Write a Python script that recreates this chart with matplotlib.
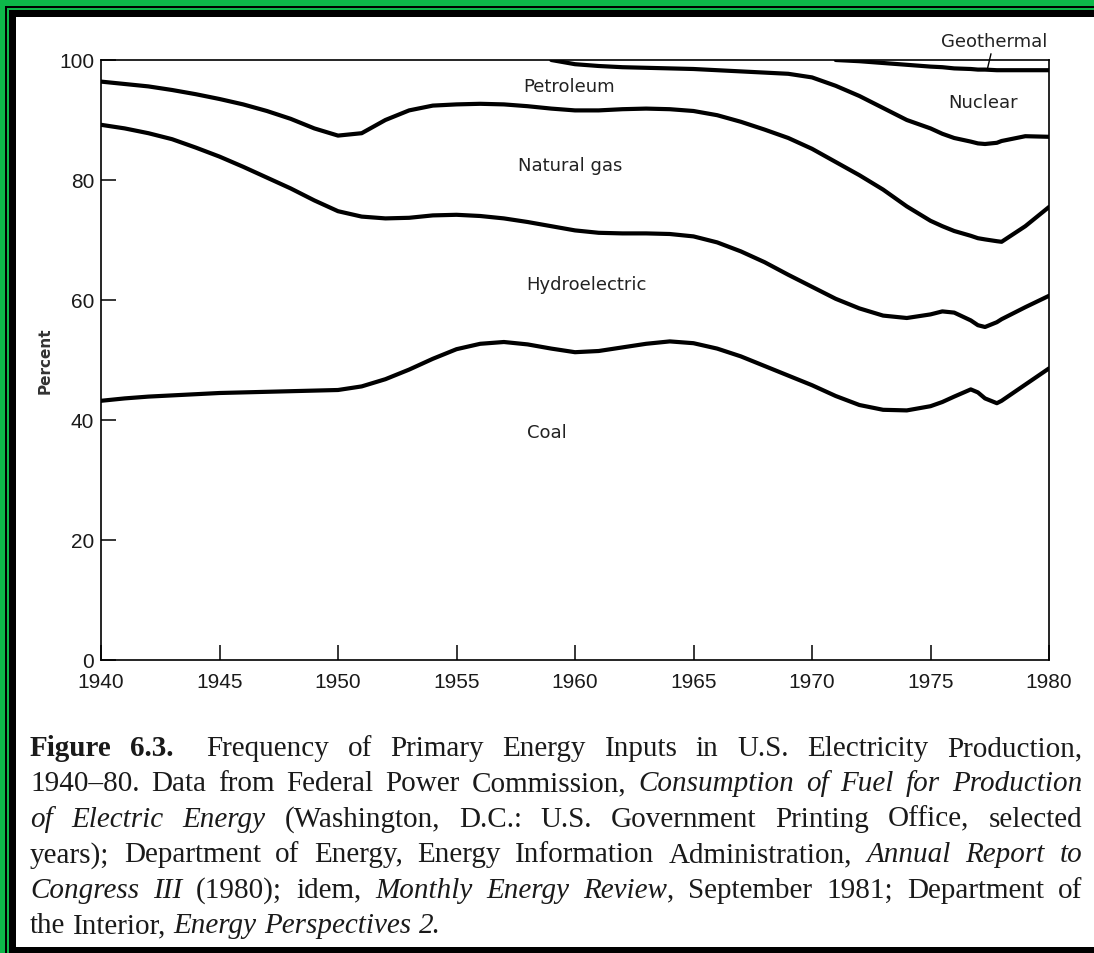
import numpy as np
import matplotlib.pyplot as plt
from matplotlib.patches import Rectangle
from matplotlib.transforms import IdentityTransform

# cumulative shares (percent) - each list is the upper edge of a fuel band
years = list(range(1940, 1976)) + [1975.5, 1976, 1976.7, 1977, 1977.3, 1977.8, 1978, 1979, 1980]

coal_top = [43.2, 43.6, 43.9, 44.1, 44.3, 44.5, 44.6, 44.7, 44.8, 44.9,
            45.0, 45.6, 46.8, 48.4, 50.2, 51.8, 52.7, 53.0, 52.6, 51.9,
            51.3, 51.5, 52.1, 52.7, 53.1, 52.8, 51.9, 50.6, 49.0, 47.4,
            45.8, 44.0, 42.5, 41.7, 41.6, 42.3,
            43.0, 43.9, 45.1, 44.6, 43.6, 42.8, 43.2, 45.9, 48.6]

hydro_top = [89.2, 88.6, 87.8, 86.8, 85.4, 83.9, 82.2, 80.4, 78.6, 76.6,
             74.8, 73.9, 73.6, 73.7, 74.1, 74.2, 74.0, 73.6, 73.0, 72.3,
             71.6, 71.2, 71.1, 71.1, 71.0, 70.6, 69.6, 68.1, 66.3, 64.2,
             62.2, 60.2, 58.6, 57.4, 57.0, 57.6,
             58.1, 57.9, 56.6, 55.8, 55.5, 56.3, 56.8, 58.8, 60.7]

gas_top = [96.4, 96.0, 95.6, 95.0, 94.3, 93.5, 92.6, 91.5, 90.2, 88.6,
           87.4, 87.8, 90.0, 91.6, 92.4, 92.6, 92.7, 92.6, 92.3, 91.9,
           91.6, 91.6, 91.8, 91.9, 91.8, 91.5, 90.8, 89.7, 88.4, 87.0,
           85.2, 83.0, 80.8, 78.4, 75.6, 73.2,
           72.3, 71.5, 70.7, 70.3, 70.1, 69.8, 69.7, 72.3, 75.5]

petroleum_top = [100] * 20 + [99.3, 99.0, 98.8, 98.7, 98.6, 98.5, 98.3, 98.1, 97.9, 97.7,
                              97.1, 95.7, 94.0, 92.0, 90.0, 88.6,
                              87.7, 87.0, 86.4, 86.1, 86.0, 86.2, 86.5, 87.3, 87.2]

nuclear_top = [100] * 32 + [99.8, 99.5, 99.2, 98.9,
                            98.8, 98.6, 98.5, 98.4, 98.4, 98.3, 98.3, 98.3, 98.3]

band_labels = ["Coal", "Hydroelectric", "Natural gas", "Petroleum", "Nuclear", "Geothermal"]
label_pos = [(1958.8, 38.0), (1960.5, 62.7), (1959.8, 82.5), (1959.75, 95.7), (1977.2, 93.0), (1977.7, 103.2)]

caption_lines = [
    [("Figure 6.3.", "bold"), ("  Frequency of Primary Energy Inputs in U.S. Electricity Production,", "normal")],
    [("1940\u201380. Data from Federal Power Commission, ", "normal"), ("Consumption of Fuel for Production", "italic")],
    [("of Electric Energy", "italic"), (" (Washington, D.C.: U.S. Government Printing Office, selected", "normal")],
    [("years); Department of Energy, Energy Information Administration, ", "normal"), ("Annual Report to", "italic")],
    [("Congress III", "italic"), (" (1980); idem, ", "normal"), ("Monthly Energy Review", "italic"),
     (", September 1981; Department of", "normal")],
    [("the Interior, ", "normal"), ("Energy Perspectives 2.", "italic")],
]

W, H = 1094, 954
fig = plt.figure(figsize=(W / 100, H / 100), dpi=100)
fig.patch.set_facecolor("white")

# scanned page border (green / black bands, top and left, black strip at bottom)
green = "#0db84a"
def band(x0, y0, x1, y1, c):
    fig.patches.append(Rectangle((x0 / W, 1 - y1 / H), (x1 - x0) / W, (y1 - y0) / H,
                                 transform=fig.transFigure, facecolor=c, edgecolor="none", zorder=5))
band(0, 0, W, 7, green)
band(0, 7, W, 9, "black")
band(0, 9, W, 11, green)
band(0, 11, W, 18, "black")
band(0, 0, 5, H, green)
band(5, 7, 7, H, "black")
band(7, 9, 9, H, green)
band(9, 11, 16, H, "black")
band(9, 948, W, H, "black")

ax = fig.add_axes([101 / W, 1 - 661 / H, 948 / W, 600 / H])
ax.set_xlim(1940, 1980)
ax.set_ylim(0, 100)

yrs = np.array(years, dtype=float)
edges = [coal_top, hydro_top, gas_top, petroleum_top, nuclear_top]
for edge in edges:
    e = np.array(edge, dtype=float)
    # only draw where the band above actually exists (otherwise it sits on the 100 line)
    inside = e < 100
    show = inside | np.roll(inside, -1)
    show[-1] = inside[-1]
    ax.plot(yrs, np.where(show, e, np.nan), color="black", lw=3.0,
            solid_joinstyle="round", solid_capstyle="round")

for name, (x, y) in zip(band_labels, label_pos):
    ax.text(x, y, name, ha="center", va="center", fontsize=13, color="#222222",
            family="DejaVu Sans", clip_on=False)
# leader line for geothermal
ax.plot([1977.55, 1977.4], [101.0, 98.5], color="black", lw=1.0, clip_on=False)

for s in ax.spines.values():
    s.set_linewidth(1.2)
ax.set_xticks(range(1940, 1981, 5))
ax.set_yticks(range(0, 101, 20))
ax.tick_params(direction="in", length=11, width=1.1, labelsize=15, colors="black")
ax.tick_params(axis="x", pad=9)
ax.tick_params(axis="y", pad=5)
for lab in ax.get_xticklabels() + ax.get_yticklabels():
    lab.set_family("Liberation Sans")
    lab.set_color("#1a1a1a")

fig.text(45 / W, 1 - 361 / H, "Percent", rotation=90, ha="center", va="center",
         fontsize=11, fontweight="bold", color="#333333")

# justified caption, laid out word by word
renderer = fig.canvas.get_renderer()
left, right = 30, 1082
baselines = [756, 791.4, 826.8, 862.2, 897.6, 933]
cap_size = 21

def split_words(runs):
    words, extra = [], []
    new_word = True
    for txt, style in runs:
        parts = txt.split(" ")
        for i, p in enumerate(parts):
            if i > 0:
                if not new_word and words:
                    new_word = True
                elif words and i > 0:
                    extra[-1] += 1  # doubled space
            if p == "":
                continue
            if new_word or not words:
                words.append([(p, style)])
                extra.append(0)
            else:
                words[-1].append((p, style))
            new_word = False
    return words, extra

for li, runs in enumerate(caption_lines):
    words, extra = split_words(runs)
    placed = []
    widths = []
    for w in words:
        pieces = []
        total = 0
        for txt, style in w:
            t = fig.text(0, 0, txt, transform=IdentityTransform(), fontsize=cap_size,
                         family="Liberation Serif", color="#1a1a1a",
                         style="italic" if style == "italic" else "normal",
                         weight="bold" if style == "bold" else "normal",
                         ha="left", va="baseline")
            wpx = t.get_window_extent(renderer).width
            pieces.append((t, wpx))
            total += wpx
        placed.append(pieces)
        widths.append(total)
    extra_px = [e * 14 for e in extra]
    if li == len(caption_lines) - 1:
        gap = 7.5
    else:
        gap = (right - left - sum(widths) - sum(extra_px[:-1])) / (len(words) - 1)
    x = left
    y = H - baselines[li]
    for pieces, wpx, ex in zip(placed, widths, extra_px):
        xx = x
        for t, pw in pieces:
            t.set_position((xx, y))
            xx += pw
        x += wpx + gap + ex

fig.savefig("out.png", dpi=100)
